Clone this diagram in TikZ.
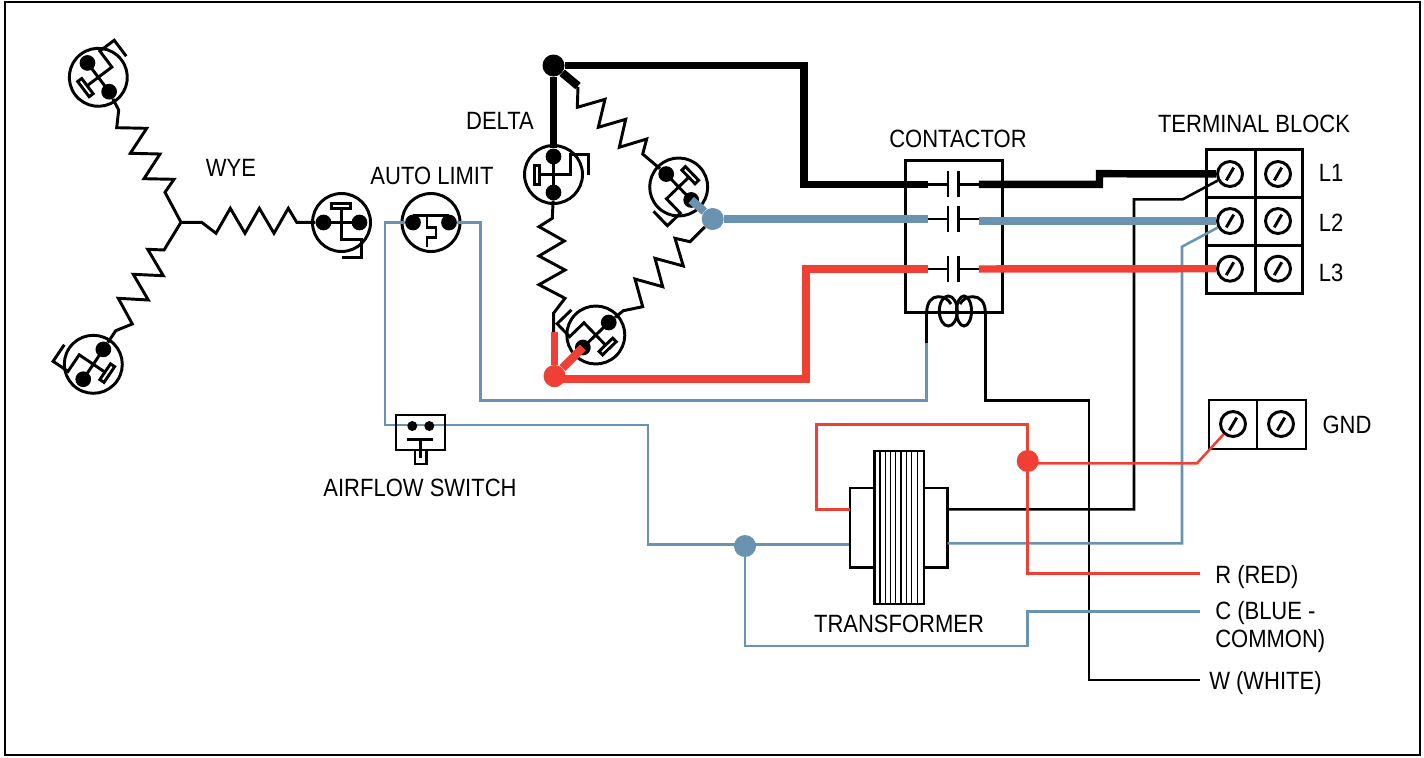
\documentclass[tikz,border=0pt]{standalone}
\usepackage{fontspec}
\setmainfont[FakeStretch=0.88]{Liberation Sans}
\definecolor{wireblue}{RGB}{106,147,178}
\definecolor{wirered}{RGB}{240,64,53}
\tikzset{
  symline/.style={line width=2.2pt,miter limit=4},
  thinwire/.style={line width=1.9pt},
  heavywire/.style={line width=5.6pt},
  stubwire/.style={line width=6.2pt},
  tipdot/.style={circle,fill=black,inner sep=0pt,minimum size=11.8pt},
  joint/.style={circle,inner sep=0pt,minimum size=16.5pt},
  screw/.style={circle,draw,line width=2.2pt,inner sep=0pt,minimum size=18.75pt,
    path picture={\draw[line width=2.2pt] ([shift={(-2.8pt,-4.8pt)}]path picture bounding box.center) -- ([shift={(2.8pt,4.8pt)}]path picture bounding box.center);}},
  wiretext/.style={inner sep=0pt,font=\fontsize{18.75}{21}\selectfont},
  protector/.pic={
    \draw[symline] (0,0) circle[radius=29];
    \node[tipdot] (-l) at (-18,0) {};
    \node[tipdot] (-r) at (18,0) {};
    \draw[symline] (-l.center) -- (-r.center);
    \draw[symline] (-10,19) rectangle (9,14);
    \draw[symline] (0,14) -- (0,-17) -- (20,-17) -- (20,-35) -- (0,-35);
  },
  autolimit/.pic={
    \draw[symline] (0,0) circle[radius=29];
    \node[tipdot] (-l) at (-18,0) {};
    \node[tipdot] (-r) at (18,0) {};
    \draw[symline] (-18,7) -- (18,7);
    \draw[symline] (-4,7) -- (-4,-5) -- (5,-5) -- (5,-15) -- (-4,-15) -- (-4,-24);
  },
  contact/.pic={
    \coordinate (-l) at (-25.5,0);
    \coordinate (-r) at (25.5,0);
    \draw[symline] (-25.5,0) -- (-5.3,0) (5.3,0) -- (25.5,0);
    \draw[symline] (-5.3,-13) -- (-5.3,13) (5.3,-13) -- (5.3,13);
  },
}
\begin{document}
\begin{tikzpicture}[x=0.75pt,y=0.75pt,yscale=-1,xscale=1]
\useasboundingbox (0,0) rectangle (1424,757);
\fill[white] (0,0) rectangle (1424,757);
%Shape: Frame
\draw[line width=1.9pt] (5,2) rectangle (1420,755);

%Shape: Protectors
\pic[rotate=127] (wyeup) at (98.3,77.3) {protector};
\pic[rotate=236] (wyedn) at (93.3,364.3) {protector};
\pic (wyerg) at (341.5,222.5) {protector};
\pic (limit) at (431,222.5) {autolimit};
\pic[rotate=90] (dltop) at (553.5,174.5) {protector};
\pic[rotate=-46] (dlrg) at (678.7,187) {protector};
\pic[rotate=224] (dlbot) at (595.8,335) {protector};

%Shape: Junctions
\node[joint,fill=black] (jblack) at (553.5,65.5) {};
\node[joint,fill=wireblue] (jblue) at (712.7,219) {};
\node[joint,fill=wirered] (jred) at (554.5,376) {};
\node[joint,fill=wirered] (jgnd) at (1027.7,461) {};
\node[joint,fill=wireblue] (jcom) at (745,546) {};
\coordinate (wyec) at (181,222.3);
\coordinate (jgndr) at (1032,463.3);

%Straight Lines: wye resistors
\draw[symline] (wyec) -- (201.7,222.3) -- (216,233.3) -- (230.3,208.3) -- (245,233.3) -- (259.3,208.3) -- (274,233.3) -- (288.3,208.3) -- (296.7,222.3) -- (wyerg-l);
\draw[symline] (wyec) -- (165,192.3) -- (174,179.3) -- (144,178.7) -- (160,154) -- (130.3,153.3) -- (146.7,128.3) -- (116.7,127.7) -- (118.7,110) -- (wyeup-l);
\draw[symline] (wyec) -- (164,250) -- (147.7,249.3) -- (163.3,275.7) -- (133.3,274.3) -- (148.3,300) -- (118.3,298.3) -- (132.3,324) -- (115.7,330.7) -- (wyedn-l);

%Straight Lines: delta resistors
\draw[symline] (dltop-l) -- (552.3,218.3) -- (539,226.7) -- (564.3,241) -- (539,256) -- (565,270) -- (539,284.7) -- (565,298.3) -- (553.7,313) -- (553.7,334);
\draw[symline] (578,87) -- (577.3,107.3) -- (605,99.3) -- (598.3,127.3) -- (625.7,119.3) -- (619.3,147.3) -- (646.7,139) -- (642.7,154) -- (dlrg-l);
\draw[symline] (jblue) -- (690,241.7) -- (675,238.3) -- (683.3,266) -- (655,258.3) -- (662.7,286.7) -- (635,279) -- (642.7,306.7) -- (623.3,310.7) -- (dlbot-l);

%Shape: Contactor
\draw[symline] (905.7,160.7) rectangle (1002.3,312.7);
\pic (cona) at (953.3,184.3) {contact};
\pic (conb) at (953.3,219) {contact};
\pic (conc) at (953.3,269) {contact};
\draw[symline] (926.7,312.7) .. controls (926.7,302) and (932,296.7) .. (938,296.7) .. controls (944,296.7) and (948,299) .. (951,304);
\draw[symline] (985.3,312.7) .. controls (985.3,302) and (980,296.7) .. (973,296.7) .. controls (967,296.7) and (963,299) .. (960,304);
\draw[symline] (948.3,311) ellipse[x radius=9,y radius=15];
\draw[symline] (964,311) ellipse[x radius=7.5,y radius=15];

%Shape: Terminal block
\draw[symline] (1206.7,149.3) rectangle (1302.7,293.3);
\draw[symline] (1255.3,149.3) -- (1255.3,293.3) (1206.7,197.7) -- (1302.7,197.7) (1206.7,245.7) -- (1302.7,245.7);
\node[screw] (tla) at (1230,174) {};
\node[screw] (tlb) at (1278,174) {};
\node[screw] (tma) at (1230,221) {};
\node[screw] (tmb) at (1278,221) {};
\node[screw] (tna) at (1230,268.7) {};
\node[screw] (tnb) at (1278,268.7) {};

%Shape: Ground block
\draw[symline] (1209,400) rectangle (1306,449);
\draw[symline] (1257,400) -- (1257,449);
\node[screw] (gnda) at (1233,424) {};
\node[screw] (gndb) at (1281,424) {};

%Shape: Airflow switch
\draw[thinwire,wireblue] (limit-l) -- (385,222.5) -- (385,425) -- (648,425) -- (648,544.3) -- (850,544.3);
\draw[thinwire,wireblue] (limit-r) -- (480.7,222.5) -- (480.7,400.7) -- (926.7,400.7) -- (926.7,343.3);
\draw[symline] (396,415) rectangle (445,450);
\fill (412.3,426) circle[radius=5] (429.3,426) circle[radius=5];
\draw[symline] (406.7,439.3) -- (433.3,439.3) (420.7,439.3) -- (420.7,458);
\draw[symline] (415,450) rectangle (426.7,464);

%Shape: Transformer
\draw[symline] (850,488) rectangle (874.3,567.3);
\draw[symline] (924,488) rectangle (947.7,567.3);
\draw[symline] (874.3,451) rectangle (924,604);
\draw[line width=1.1pt] (880,451) -- (880,604) (885.3,451) -- (885.3,604) (890.7,451) -- (890.7,604) (895.7,451) -- (895.7,604) (901,451) -- (901,604) (906.3,451) -- (906.3,604) (911.7,451) -- (911.7,604) (917.3,451) -- (917.3,604);

%Straight Lines: control wiring
\draw[thinwire] (926.7,343.3) -- (926.7,312.7);
\draw[thinwire] (985.3,312.7) -- (985.3,400.7) -- (1089,400.7) -- (1089,680) -- (1200,680);
\draw[thinwire] (947.7,509.3) -- (1134,509.3) -- (1134,199.3) -- (1182.7,199.3) -- (tla);
\draw[thinwire,wireblue] (947.7,543.3) -- (1182,543.3) -- (1182,246.7) -- (tma);
\draw[thinwire,wirered] (850,509.3) -- (816.7,509.3) -- (816.7,424.3) -- (1027.7,424.3) -- (1027.7,573.7) -- (1200,573.7);
\draw[thinwire,wirered] (jgndr) -- (1197,463.3) -- (gnda);
\draw[thinwire,wireblue] (jcom) -- (745,646) -- (1027.7,646) -- (1027.7,611.5) -- (1200,611.5);

%Straight Lines: power wiring
\draw[heavywire] (jblack) -- (804,65.5) -- (804,184.3) -- (cona-l);
\draw[heavywire] (cona-r) -- (1099.5,184.3) -- (1099.5,173.7) -- (tla);
\draw[heavywire] (jblack) -- (dltop-r);
\draw[stubwire] (jblack) -- (578,86);
\draw[heavywire,wireblue] (jblue) -- (conb-l);
\draw[heavywire,wireblue] (conb-r |- tma) -- (tma);
\draw[stubwire,wireblue] (dlrg-r.center) -- (jblue);
\draw[heavywire,wirered] (jred) -- (554.5,379) -- (806,379) -- (806,269) -- (conc-l);
\draw[heavywire,wirered] (conc-r) -- (tna);
\draw[heavywire,wirered] (554.5,331.7) -- (jred);
\draw[stubwire,wirered] (dlbot-r.center) -- (jred);

% Text Node
\node[wiretext,anchor=base] (lblwye) at (231,176) {WYE};
\node[wiretext,anchor=base] (lbllimit) at (432,184) {AUTO LIMIT};
\node[wiretext,anchor=base] (lbldelta) at (500,129) {DELTA};
\node[wiretext,anchor=base] (lblcon) at (958,147) {CONTACTOR};
\node[wiretext,anchor=base] (lblblock) at (1254,132) {TERMINAL BLOCK};
\node[wiretext,anchor=base] (lblla) at (1331,181) {L1};
\node[wiretext,anchor=base] (lbllb) at (1331,231) {L2};
\node[wiretext,anchor=base] (lbllc) at (1331,281) {L3};
\node[wiretext,anchor=base] (lblgnd) at (1347,433) {GND};
\node[wiretext,anchor=base] (lblair) at (420,496) {AIRFLOW SWITCH};
\node[wiretext,anchor=base] (lbltrans) at (899,632) {TRANSFORMER};
\node[wiretext,anchor=base west] (lblr) at (1215,583) {R (RED)};
\node[wiretext,anchor=west,align=left] (lblc) at (1215,627) {C (BLUE -\\COMMON)};
\node[wiretext,anchor=base west] (lblw) at (1209,689) {W (WHITE)};

\end{tikzpicture}
\end{document}
